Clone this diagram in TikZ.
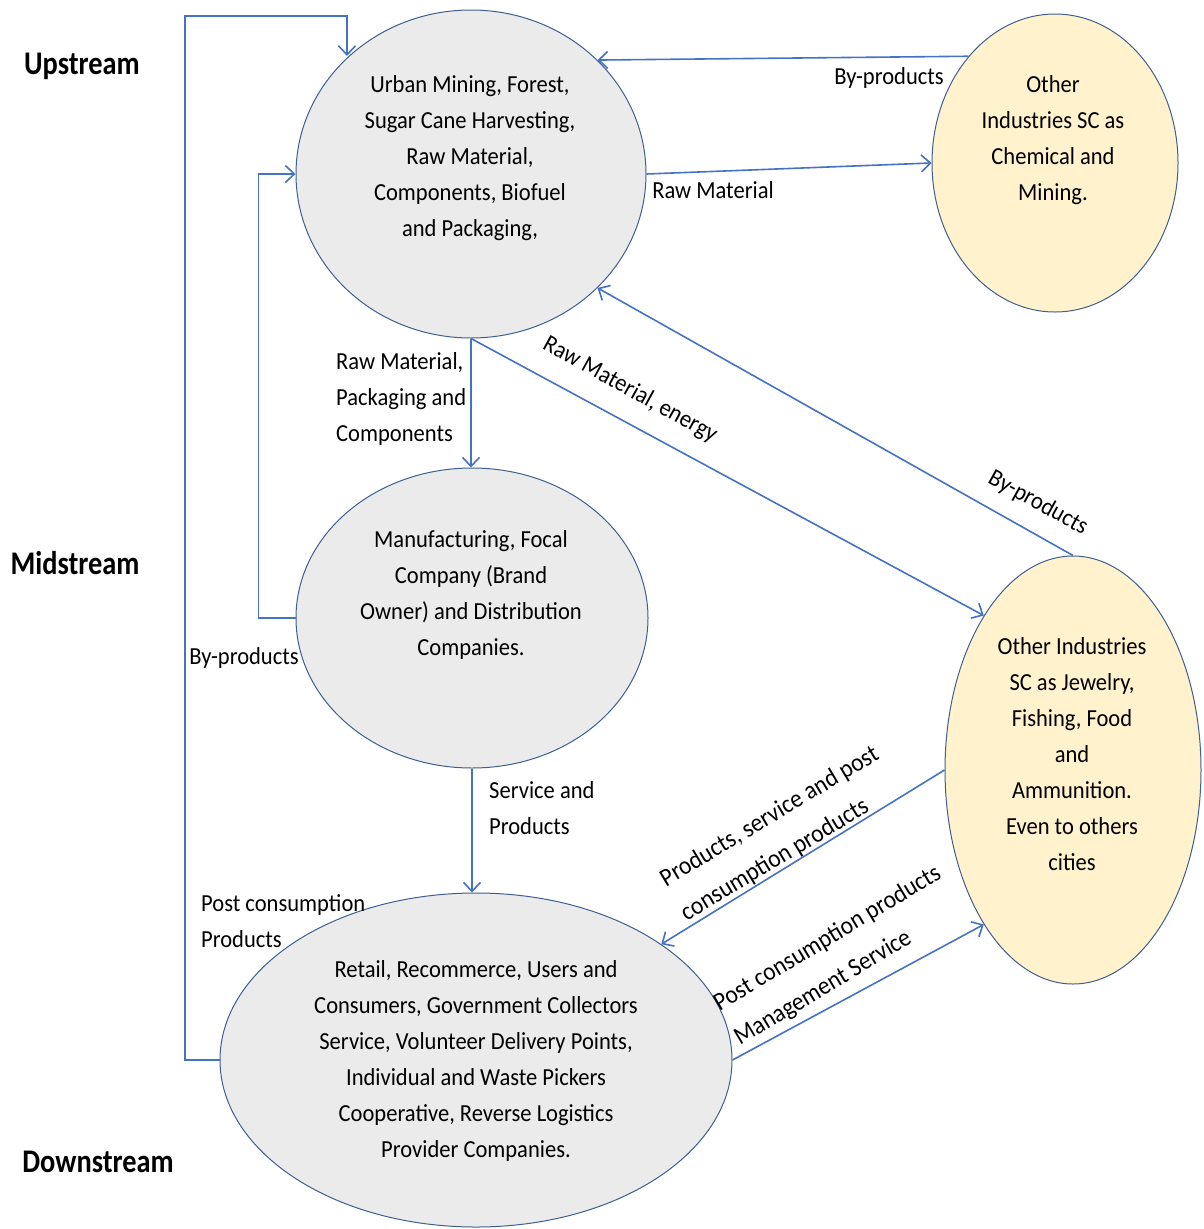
\documentclass[tikz,border=0pt]{standalone}
\usepackage{fontspec}
\setmainfont{Carlito}[FakeStretch=0.92]
\newfontfamily\tierfont{Carlito}[FakeStretch=0.86]
\usetikzlibrary{arrows.meta,shapes.geometric}
\definecolor{linkblue}{HTML}{4472C4}
\definecolor{rimblue}{HTML}{3F5F8F}
\definecolor{greyfill}{HTML}{EBEBEB}
\definecolor{creamfill}{HTML}{FFF2CC}
\begin{document}
\begin{tikzpicture}[x=1pt,y=-1pt,
  stage/.style={ellipse,draw=rimblue,line width=1pt,inner sep=0pt},
  greystage/.style={stage,fill=greyfill},
  creamstage/.style={stage,fill=creamfill},
  body/.style={align=center,font=\fontsize{24.5}{36}\selectfont,inner sep=0pt},
  lbl/.style={font=\fontsize{24.5}{36}\selectfont,inner sep=0pt},
  slant/.style={align=left,rotate=31,font=\fontsize{25.5}{40}\selectfont,inner sep=0pt},
  tier/.style={font=\tierfont\fontsize{33}{36}\selectfont\bfseries,inner sep=0pt},
  flow/.style={draw=linkblue,line width=1.6pt,-{Straight Barb[length=9pt,width=17pt,line width=1.6pt]}}]
\useasboundingbox (0,0) rectangle (1203,1229);

% stages
\node[greystage,minimum width=350,minimum height=328] (T) at (471,174) {};
\node[creamstage,minimum width=246,minimum height=298] (Y1) at (1055,163) {};
\node[greystage,minimum width=352,minimum height=300] (M) at (472,618) {};
\node[creamstage,minimum width=256,minimum height=428] (Y2) at (1073,770) {};
\node[greystage,minimum width=512,minimum height=334] (B) at (476,1060) {};

\node[body] (Ttxt) at (470,158) {Urban Mining, Forest,\\Sugar Cane Harvesting,\\Raw Material,\\Components, Biofuel\\and Packaging,};
\node[body] (Y1txt) at (1053,140) {Other\\Industries SC as\\Chemical and\\Mining.};
\node[body] (Mtxt) at (471,595) {Manufacturing, Focal\\Company (Brand\\Owner) and Distribution\\Companies.};
\node[body] (Y2txt) at (1072,754) {Other Industries\\SC as Jewelry,\\Fishing, Food\\and\\Ammunition.\\Even to others\\cities};
\node[body] (Btxt) at (476,1061) {Retail, Recommerce, Users and\\Consumers, Government Collectors\\Service, Volunteer Delivery Points,\\Individual and Waste Pickers\\Cooperative, Reverse Logistics\\Provider Companies.};

% tiers
\node[tier] (up) at (82,66) {Upstream};
\node[tier] (mid) at (75,563) {Midstream};
\node[tier] (down) at (98,1162) {Downstream};

% connectors
\coordinate (loopA) at (185,1060);
\coordinate (loopB) at (185,16);
\coordinate (loopC) at (347,16);
\draw[flow] (B.west) -- (loopA) -- (loopB) -- (loopC) -- (loopC |- T.136);
\draw[flow] (M.west) -- ++(-37,0) |- (T.west);
\draw[flow] (Y1.129.6) -- (T.42);
\draw[flow] (T.east) -- (Y1.west);
\draw[flow] (T.south) -- (T.south |- M.north);
\draw[flow] (T.south) -- (Y2.120.4);
\draw[flow] (Y2.north) -- (T.-42.6);
\draw[flow] (M.south) -- (M.south |- B.north);
\draw[flow] (Y2.west) -- (B.32.5);
\draw[flow] (B.east) -- (Y2.-120.3);

% connector labels
\node[lbl] (l1) at (889,78) {By-products};
\node[lbl] (l2) at (713,190) {Raw Material};
\node[lbl,align=left,anchor=west] (l3) at (336,399) {Raw Material,\\Packaging and\\Components};
\node[lbl,rotate=-28.8] (l4) at (630,390) {Raw Material, energy};
\node[lbl,rotate=-29] (l5) at (1038,503) {By-products};
\node[slant] (l7) at (780,834) {Products, service and post\\consumption products};
\node[slant] (l8) at (838,956) {Post consumption products\\Management Service};
\node[lbl,align=left,anchor=west] (l6) at (489,808) {Service and\\Products};
\node[lbl,align=left,anchor=west] (l9) at (201,921) {Post consumption\\Products};
\node[lbl] (l10) at (244,658) {By-products};
\end{tikzpicture}
\end{document}
